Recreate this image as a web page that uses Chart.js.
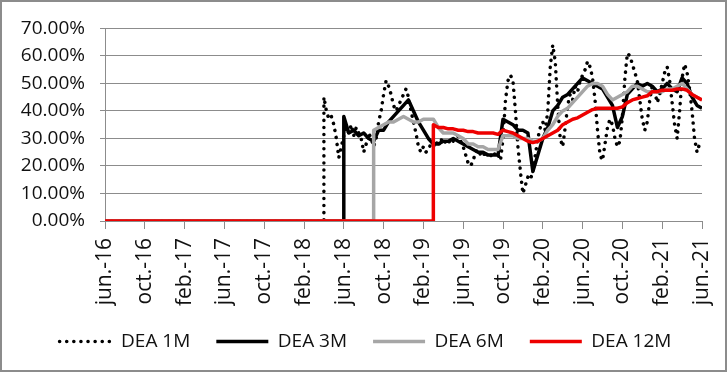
<!DOCTYPE html>
<html>
<head>
<meta charset="utf-8">
<script src="https://cdn.jsdelivr.net/npm/chart.js@4.4.1/dist/chart.umd.min.js"></script>
<style>
  html, body { margin: 0; padding: 0; background: #fff; }
  #wrap { width: 727px; height: 372px; box-sizing: border-box; border: 2px solid #8c8c8c; }
  canvas { display: block; }
</style>
</head>
<body>
<div id="wrap"><canvas id="deaChart" width="723" height="368"></canvas></div>
<script>
// x axis runs in months from jun.-16 (0) to jun.-21 (60), one label every 4 months
var tickLabels = ['jun.-16', 'oct.-16', 'feb.-17', 'jun.-17', 'oct.-17', 'feb.-18', 'jun.-18', 'oct.-18',
    'feb.-19', 'jun.-19', 'oct.-19', 'feb.-20', 'jun.-20', 'oct.-20', 'feb.-21', 'jun.-21'];

// DEA 1M, from apr.-18, read every quarter month (one row = one month)
var dea1mStart = 22;
var dea1mStep = 0.25;
var dea1mValues = [
    45, 40, 37, 38,
    35, 30, 23, 27,
    31, 34, 32, 35,
    31, 34, 32, 30,
    25, 28, 32, 30,
    27, 30, 36, 40,
    46, 51, 49, 46,
    42, 40, 42, 44,
    46, 48, 45, 40,
    36, 32, 27, 25,
    27, 25, 26, 28,
    27, 29, 27, 30,
    28, 29, 28, 30,
    29, 30, 31, 29,
    27, 24, 21, 20,
    22, 25, 26, 24,
    25, 23, 25, 24,
    23, 25, 24, 22,
    30, 44, 51, 53,
    51, 40, 27, 18,
    10, 13, 16, 15,
    18, 24, 30, 34,
    36, 33, 40, 56,
    64, 58, 42, 30,
    27, 34, 42, 46,
    44, 49, 47, 51,
    53, 55, 58, 56,
    52, 44, 33, 24,
    22, 28, 34, 37,
    35, 30, 27, 29,
    38, 52, 61, 60,
    57, 54, 51, 44,
    37, 33, 36, 44,
    49, 47, 43, 46,
    50, 54, 56, 51,
    43, 35, 30, 40,
    52, 57, 54, 48,
    40, 30, 25, 28,
    27
];

// the other series are read every half month
var stepMonths = 0.5;

// DEA 3M, from jun.-18
var dea3mStart = 24;
var dea3mValues = [
    38, 32, 33, 31, 32, 30, 29, 33, 33, 36,
    38, 40, 42, 44, 40, 36, 33, 30, 28, 28,
    29, 29, 30, 29, 28, 27, 26, 25, 25, 24,
    24, 24, 37, 36, 35, 33, 33, 32, 18, 24,
    30, 34, 40, 42, 45, 46, 48, 50, 52, 51,
    50, 49, 48, 45, 42, 34, 38, 46, 48, 50,
    49, 50, 49, 47, 48, 50, 48, 47, 52, 50,
    45, 42, 41
];

// DEA 6M, from sep.-18
var dea6mStart = 27;
var dea6mValues = [
    33, 34, 35, 36, 36, 37, 38, 37, 36, 36,
    37, 37, 37, 34, 32, 32, 32, 31, 30, 28,
    28, 27, 27, 26, 26, 26, 31, 31, 31, 30,
    30, 30, 29, 29, 30, 33, 35, 38, 40, 41,
    43, 45, 47, 49, 50, 50, 49, 46, 44, 45,
    46, 47, 49, 49, 48, 47, 47, 47, 47, 48,
    48, 49, 50, 48, 46, 45, 44
];

// DEA 12M, from mar.-19
var dea12mStart = 33;
var dea12mValues = [
    35, 34, 34, 33.5, 33.5, 33, 33, 32.5, 32.5, 32,
    32, 32, 32, 31.5, 33, 32.5, 32, 31, 30, 29,
    28.5, 29, 30, 31, 32, 33, 35, 36, 37, 37.5,
    38.5, 39.5, 40.5, 41, 41, 41, 41, 41, 41.5, 43,
    44, 44.5, 45, 45.5, 47, 47, 47.5, 47.5, 47.5, 48,
    48, 47.5, 46, 45, 44
];

// series sit at zero until they start
function buildPoints(start, step, values) {
    var pts = [{x: 0, y: 0}, {x: start, y: 0}];
    values.forEach(function (v, i) {
        pts.push({x: start + i * step, y: v});
    });
    return pts;
}

var font = {family: "'Open Sans', sans-serif", size: 19};

// nudge the legend row a few pixels right, like the original
var legendShift = {
    id: 'legendShift',
    afterLayout: function (chart) {
        chart.legend.left += 6;
        chart.legend.right += 6;
    }
};

var ctx = document.getElementById('deaChart').getContext('2d');
var deaChart = new Chart(ctx, {
    type: 'line',
    data: {
        datasets: [{
            label: 'DEA 1M',
            data: buildPoints(dea1mStart, dea1mStep, dea1mValues),
            borderColor: '#000',
            borderWidth: 3.5,
            borderDash: [0.1, 7],
            borderCapStyle: 'round',
            order: 4
        }, {
            label: 'DEA 3M',
            data: buildPoints(dea3mStart, stepMonths, dea3mValues),
            borderColor: '#000',
            borderWidth: 3.5,
            order: 3
        }, {
            label: 'DEA 6M',
            data: buildPoints(dea6mStart, stepMonths, dea6mValues),
            borderColor: '#a6a6a6',
            borderWidth: 3.5,
            order: 2
        }, {
            label: 'DEA 12M',
            data: buildPoints(dea12mStart, stepMonths, dea12mValues),
            borderColor: '#ee0000',
            borderWidth: 3.5,
            order: 1
        }]
    },
    options: {
        responsive: false,
        animation: false,
        elements: {
            point: {radius: 0, pointStyle: 'line'},
            line: {tension: 0, borderJoinStyle: 'round', fill: false}
        },
        layout: {padding: {left: 15, right: 23, top: 23, bottom: 9}},
        scales: {
            x: {
                type: 'linear',
                min: 0,
                max: 60,
                border: {color: '#8c8c8c'},
                grid: {drawOnChartArea: false, drawTicks: true, tickLength: 8, color: '#8c8c8c'},
                ticks: {
                    stepSize: 4,
                    autoSkip: false,
                    maxRotation: 90,
                    minRotation: 90,
                    padding: 9,
                    color: '#111',
                    font: {family: "'Open Sans', sans-serif", size: 21},
                    callback: function (value, index) {
                        return tickLabels[index];
                    }
                },
                afterFit: function (scale) {
                    scale.height = 85;
                    // the side padding already leaves room for the rotated end labels
                    scale.paddingLeft = 0;
                    scale.paddingRight = 0;
                }
            },
            y: {
                min: 0,
                max: 70,
                border: {color: '#8c8c8c'},
                grid: {color: '#8c8c8c', tickLength: 5},
                ticks: {
                    stepSize: 10,
                    padding: 15,
                    color: '#111',
                    font: font,
                    callback: function (value) {
                        return value.toFixed(2) + '%';
                    }
                },
                afterFit: function (scale) {
                    scale.width = 88;
                }
            }
        },
        plugins: {
            tooltip: {enabled: false},
            legend: {
                position: 'bottom',
                labels: {
                    usePointStyle: true,
                    pointStyleWidth: 52,
                    padding: 26,
                    color: '#111',
                    font: font,
                    // legend takes point styles, so copy the dash of each line back in
                    generateLabels: function (chart) {
                        var items = Chart.defaults.plugins.legend.labels.generateLabels(chart);
                        items.forEach(function (item) {
                            var ds = chart.data.datasets[item.datasetIndex];
                            item.lineDash = ds.borderDash || [];
                            item.lineCap = ds.borderCapStyle || 'butt';
                        });
                        return items;
                    },
                    sort: function (a, b) {
                        return a.datasetIndex - b.datasetIndex;
                    }
                }
            }
        }
    },
    plugins: [legendShift]
});
</script>
</body>
</html>
